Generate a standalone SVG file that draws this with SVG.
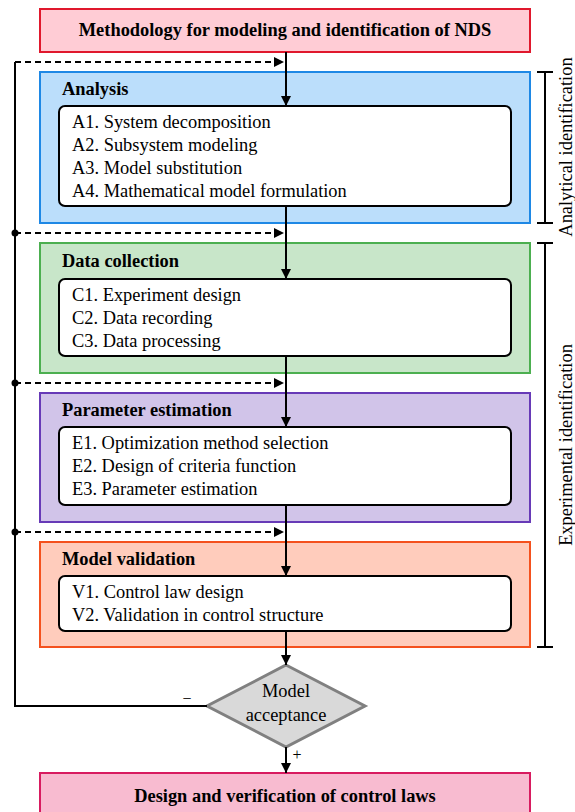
<svg xmlns="http://www.w3.org/2000/svg" width="575" height="812" viewBox="0 0 575 812">
<defs>
<marker id="ah" viewBox="0 0 10 10" refX="10" refY="5" markerWidth="10" markerHeight="10" markerUnits="userSpaceOnUse" orient="auto">
<path d="M0,0 L10,5 L0,10 z" fill="#000"/>
</marker>
<style>
text{font-family:"Liberation Serif","Times New Roman",serif;font-size:18.4px;fill:#000}
.b{font-weight:bold}
.m{text-anchor:middle}
.inner{fill:#fff;stroke:#000;stroke-width:2}
.ln{fill:none;stroke:#000;stroke-width:2}
.dash{fill:none;stroke:#000;stroke-width:2;stroke-dasharray:6 4}
</style>
</defs>
<rect width="575" height="812" fill="#fff"/>

<g id="start">
<rect x="40" y="9" width="490" height="43" fill="#ffccd5" stroke="#e0182d" stroke-width="2"/>
<text class="b m" x="285" y="36">Methodology for modeling and identification of NDS</text>
</g>

<g id="analysis">
<rect x="40" y="72" width="490" height="151" fill="#bbdefb" stroke="#1e88e5" stroke-width="2"/>
<text class="b" x="62" y="95">Analysis</text>
<rect class="inner" x="59" y="106" width="452" height="100" rx="6"/>
<text x="72" y="128">A1. System decomposition</text>
<text x="72" y="151">A2. Subsystem modeling</text>
<text x="72" y="174">A3. Model substitution</text>
<text x="72" y="197">A4. Mathematical model formulation</text>
</g>

<g id="data">
<rect x="40" y="243" width="490" height="130" fill="#c8e6c9" stroke="#4caf50" stroke-width="2"/>
<text class="b" x="62" y="267">Data collection</text>
<rect class="inner" x="59" y="279" width="452" height="77" rx="6"/>
<text x="72" y="301">C1. Experiment design</text>
<text x="72" y="324">C2. Data recording</text>
<text x="72" y="347">C3. Data processing</text>
</g>

<g id="param">
<rect x="40" y="393" width="490" height="129" fill="#d1c4e9" stroke="#673ab7" stroke-width="2"/>
<text class="b" x="62" y="416">Parameter estimation</text>
<rect class="inner" x="59" y="427" width="452" height="78" rx="6"/>
<text x="72" y="449">E1. Optimization method selection</text>
<text x="72" y="472">E2. Design of criteria function</text>
<text x="72" y="495">E3. Parameter estimation</text>
</g>

<g id="validation">
<rect x="40" y="542" width="490" height="105" fill="#ffccbc" stroke="#f4511e" stroke-width="2"/>
<text class="b" x="62" y="565">Model validation</text>
<rect class="inner" x="59" y="576" width="452" height="55" rx="6"/>
<text x="72" y="598">V1. Control law design</text>
<text x="72" y="621">V2. Validation in control structure</text>
</g>

<g id="decision">
<polygon points="286,665 365,706 286,747 207,706" fill="#d9d9d9" stroke="#808080" stroke-width="3"/>
<text class="m" x="286" y="697">Model</text>
<text class="m" x="286" y="721">acceptance</text>
</g>

<g id="end">
<rect x="40" y="773" width="490" height="60" fill="#f8bbd0" stroke="#d81b60" stroke-width="2"/>
<text class="b m" x="285" y="802">Design and verification of control laws</text>
</g>

<g id="brackets">
<path class="ln" d="M545,72 V223 M537,72 H553 M537,223 H553"/>
<path class="ln" d="M545,243 V647 M537,243 H553 M537,647 H553"/>
<text class="m" transform="translate(572,147) rotate(-90)">Analytical identification</text>
<text class="m" transform="translate(572,445) rotate(-90)">Experimental identification</text>
</g>

<g id="connectors">
<path class="ln" d="M286,52 V106" marker-end="url(#ah)"/>
<path class="ln" d="M286,206 V279" marker-end="url(#ah)"/>
<path class="ln" d="M286,356 V427" marker-end="url(#ah)"/>
<path class="ln" d="M286,505 V576" marker-end="url(#ah)"/>
<path class="ln" d="M286,631 V665" marker-end="url(#ah)"/>
<path class="ln" d="M286,747 V773" marker-end="url(#ah)"/>
<path class="ln" d="M207,706 H15 V62"/>
<path class="dash" d="M15,62 H284" marker-end="url(#ah)"/>
<path class="dash" d="M15,233 H284" marker-end="url(#ah)"/>
<path class="dash" d="M15,383 H284" marker-end="url(#ah)"/>
<path class="dash" d="M15,532 H284" marker-end="url(#ah)"/>
<circle cx="15" cy="233" r="3.5" fill="#000"/>
<circle cx="15" cy="383" r="3.5" fill="#000"/>
<circle cx="15" cy="532" r="3.5" fill="#000"/>
<text class="m" x="187" y="704" style="font-size:16px">−</text>
<text class="m" x="297" y="760" style="font-size:16px">+</text>
</g>
</svg>
